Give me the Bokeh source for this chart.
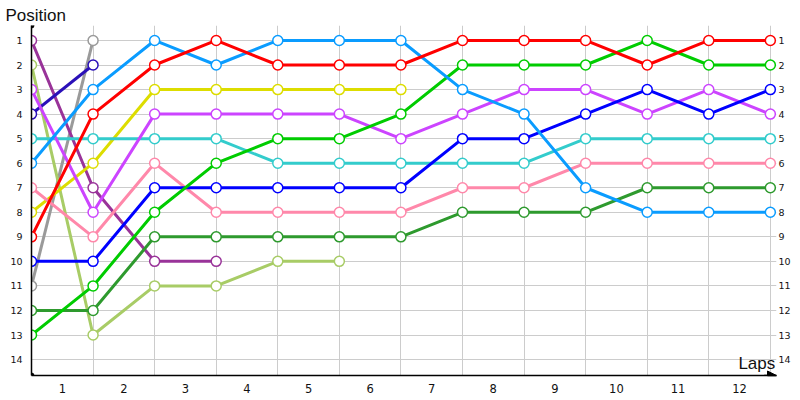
from bokeh.plotting import figure
from bokeh.models import (Range1d, LinearAxis, FixedTicker, Label, Arrow,
                          NormalHead, Grid)
from bokeh.embed import file_html
from bokeh.resources import INLINE

# ---- data -------------------------------------------------------------
laps = list(range(13))                 # 0 = grid / start, 1..12 = after lap n
lap_labels = [str(i) for i in range(1, 13)]
positions = list(range(1, 15))

red    = [9, 4, 2, 1, 2, 2, 2, 1, 1, 1, 2, 1, 1]
sky    = [6, 3, 1, 2, 1, 1, 1, 3, 4, 7, 8, 8, 8]
navy   = [4, 2]
gray   = [11, 1]
plum   = [1, 7, 10, 10]
lime   = [2, 13, 11, 11, 10, 10]
violet = [3, 8, 4, 4, 4, 4, 5, 4, 3, 3, 4, 3, 4]
cyan   = [5, 5, 5, 5, 6, 6, 6, 6, 6, 5, 5, 5, 5]
pink   = [7, 9, 6, 8, 8, 8, 8, 7, 7, 6, 6, 6, 6]
yellow = [8, 6, 3, 3, 3, 3, 3]
blue   = [10, 10, 7, 7, 7, 7, 7, 5, 5, 4, 3, 4, 3]
green  = [13, 11, 8, 6, 5, 5, 4, 2, 2, 2, 1, 2, 2]
dgreen = [12, 12, 9, 9, 9, 9, 9, 8, 8, 8, 7, 7, 7]

series = [
    (gray,   "#9a9a9a"),
    (plum,   "#993399"),
    (lime,   "#a8cc66"),
    (navy,   "#2a10b8"),
    (yellow, "#dddd00"),
    (pink,   "#ff88aa"),
    (cyan,   "#33cccc"),
    (dgreen, "#2e9a2e"),
    (violet, "#cc44ff"),
    (blue,   "#0000ff"),
    (green,  "#00cc00"),
    (sky,    "#0a9cff"),
    (red,    "#ff0000"),
]

# ---- figure -----------------------------------------------------------
X0, X1 = 0, 12.1
Y0, Y1 = 14.65, 0.39

p = figure(width=800, height=400,
           x_range=Range1d(X0, X1), y_range=Range1d(Y0, Y1),
           x_axis_type=None, y_axis_type=None,
           output_backend="svg", toolbar_location=None,
           min_border_left=31, min_border_right=24,
           min_border_top=25, min_border_bottom=25)
p.outline_line_color = None
p.background_fill_color = "white"
p.border_fill_color = "white"

p.title.text = "Position"
p.title.align = "left"
p.title.offset = -26
p.title.standoff = 2
p.title.text_font = "Liberation Sans"
p.title.text_font_size = "17px"
p.title.text_font_style = "normal"
p.title.text_color = "#111111"

# grids
xg = Grid(dimension=0, ticker=FixedTicker(ticks=laps),
          grid_line_color="#cccccc", grid_line_width=1)
yg = Grid(dimension=1, ticker=FixedTicker(ticks=positions),
          grid_line_color="#cccccc", grid_line_width=1)
p.add_layout(xg)
p.add_layout(yg)

# axes
tick_pos = [i + 0.5 for i in range(len(lap_labels))]
bottom = LinearAxis(ticker=FixedTicker(ticks=tick_pos),
                    major_label_overrides={t: l for t, l in zip(tick_pos, lap_labels)})
bottom.axis_line_color = "black"
bottom.axis_line_width = 1.5
bottom.major_tick_out = 0
bottom.major_tick_in = 0
bottom.major_tick_line_color = None
bottom.minor_tick_line_color = None
bottom.major_label_standoff = 8
bottom.major_label_text_font = "DejaVu Sans"
bottom.major_label_text_font_size = "11.5px"
bottom.major_label_text_color = "#111111"
p.add_layout(bottom, "below")

left = LinearAxis(ticker=FixedTicker(ticks=positions))
left.axis_line_color = "black"
left.axis_line_width = 1.5
left.major_tick_out = 0
left.major_tick_in = 0
left.major_tick_line_color = None
left.minor_tick_line_color = None
left.major_label_standoff = 9
left.major_label_text_font = "DejaVu Sans"
left.major_label_text_font_size = "9.5px"
left.major_label_text_color = "#111111"
p.add_layout(left, "left")

right = LinearAxis(ticker=FixedTicker(ticks=positions))
right.axis_line_color = None
right.major_tick_out = 0
right.major_tick_in = 0
right.major_tick_line_color = None
right.minor_tick_line_color = None
right.major_label_standoff = 2
right.major_label_text_font = "DejaVu Sans"
right.major_label_text_font_size = "9.5px"
right.major_label_text_color = "#111111"
p.add_layout(right, "right")

# series lines then markers
for ys, col in series:
    p.line(laps[:len(ys)], ys, line_color=col, line_width=3)
for ys, col in series:
    p.scatter(laps[:len(ys)], ys, marker="circle", size=10,
              fill_color="white", line_color=col, line_width=1.5)

# axis decorations
p.scatter([X0, X0], [Y0, Y1], size=5, color="black")
p.add_layout(Arrow(end=NormalHead(size=9, fill_color="black", line_color="black"),
                   x_start=X1 - 0.2, y_start=Y0, x_end=X1, y_end=Y0,
                   line_color="black", line_width=1.5))

p.add_layout(Label(x=12.08, y=14.55, text="Laps", text_align="right",
                   text_baseline="bottom", text_font="Liberation Sans",
                   text_font_size="17px", text_color="#111111"))

open("out.html", "w").write(file_html(p, INLINE))
